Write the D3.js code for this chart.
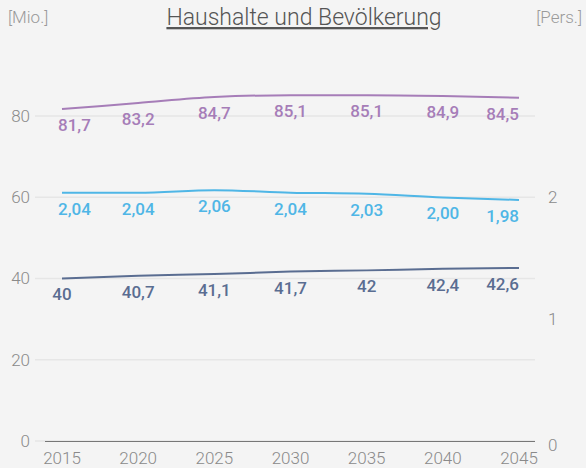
<!DOCTYPE html>
<html>
<head>
<meta charset="utf-8">
<script src="https://cdn.jsdelivr.net/npm/d3@7"></script>
<style>
  html, body { margin: 0; padding: 0; background: #f4f4f4; }
  svg { display: block; font-family: Roboto, "Open Sans", sans-serif; }
  .tick-label { fill: #8a8a8a; font-size: 17px; font-weight: 300; }
  .unit { fill: #9a9a9a; font-size: 17px; font-weight: 300; }
  .title { fill: #555; font-size: 23px; font-weight: 300; text-decoration: underline; }
  .val { font-size: 17px; font-weight: 500; }
</style>
</head>
<body>
<div id="chart"></div>
<script>
/* Haushalte und Bevölkerung - three lines, left axis in Mio., right axis in persons */

const W = 586, H = 468;

const YEARS = [2015, 2020, 2025, 2030, 2035, 2040, 2045];
const BEVOELKERUNG = [81.7, 83.2, 84.7, 85.1, 85.1, 84.9, 84.5];    // Mio.
const HAUSHALTSGROESSE = [2.04, 2.04, 2.06, 2.04, 2.03, 2.00, 1.98]; // Pers.
const HAUSHALTE = [40, 40.7, 41.1, 41.7, 42, 42.4, 42.6];           // Mio.

const LEFT_TICKS = [0, 20, 40, 60, 80];
const RIGHT_TICKS = [0, 1, 2];

const fmt = v => String(v).replace(".", ",");
const fmt2 = v => v.toFixed(2).replace(".", ",");

// firstStart: first label sits left-aligned at the line start instead of centred
const SERIES = [
  { key: "bev", values: BEVOELKERUNG, axis: "left",  color: "#a67db8", label: fmt,  firstStart: true },
  { key: "hhg", values: HAUSHALTSGROESSE, axis: "right", color: "#4fb6e6", label: fmt2, firstStart: true },
  { key: "hh",  values: HAUSHALTE, axis: "left",  color: "#5a6d91", label: fmt,  firstStart: false }
];

const svg = d3.select("#chart").append("svg")
    .attr("width", W).attr("height", H);

// plot area: x from 2015 to 2045, y 0..80 on the left
const x = d3.scaleLinear().domain([2015, 2045]).range([62, 519]);
const yL = d3.scaleLinear().domain([0, 80]).range([441, 116]);
const yR = d3.scaleLinear().domain([0, 2]).range([441, 197.5]);

// gridlines + left tick labels
const grid = svg.append("g");
grid.selectAll("line").data(LEFT_TICKS).join("line")
    .attr("x1", 35).attr("x2", 535)
    .attr("y1", d => yL(d)).attr("y2", d => yL(d))
    .attr("stroke", "#e6e6e6").attr("stroke-width", 1.5);
grid.selectAll("text").data(LEFT_TICKS).join("text")
    .attr("class", "tick-label")
    .attr("x", 30).attr("y", d => yL(d)).attr("dy", "0.35em")
    .attr("text-anchor", "end").text(d => d);

// right tick labels
svg.append("g").selectAll("text").data(RIGHT_TICKS).join("text")
    .attr("class", "tick-label")
    .attr("x", 548).attr("y", d => yR(d) + (d === 0 ? 4 : 0)).attr("dy", "0.35em")
    .text(d => d);

// x axis baseline and year labels
svg.append("line")
    .attr("x1", 45).attr("x2", 535)
    .attr("y1", yL(0) + 0.5).attr("y2", yL(0) + 0.5)
    .attr("stroke", "#777").attr("stroke-width", 1);
svg.append("g").selectAll("text").data(YEARS).join("text")
    .attr("class", "tick-label")
    .attr("x", d => x(d)).attr("y", 458).attr("dy", "0.35em")
    .attr("text-anchor", "middle").text(d => d);

// title and unit labels
svg.append("text").attr("class", "unit").attr("x", 8).attr("y", 23).text("[Mio.]");
svg.append("text").attr("class", "unit").attr("x", 582).attr("y", 23)
    .attr("text-anchor", "end").text("[Pers.]");
svg.append("text").attr("class", "title").attr("x", 304).attr("y", 25)
    .attr("text-anchor", "middle").text("Haushalte und Bevölkerung");

// lines + value labels
SERIES.forEach(s => {
  const y = s.axis === "left" ? yL : yR;
  const last = s.values.length - 1;
  const line = d3.line()
      .x((d, i) => x(YEARS[i]))
      .y(d => y(d))
      .curve(d3.curveMonotoneX);
  svg.append("path")
      .datum(s.values)
      .attr("d", line)
      .attr("fill", "none")
      .attr("stroke", s.color)
      .attr("stroke-width", 2);
  svg.append("g").selectAll("text").data(s.values).join("text")
      .attr("class", "val")
      .attr("fill", s.color)
      .attr("x", (d, i) => x(YEARS[i]) + (i === 0 && s.firstStart ? -4 : 0))
      .attr("y", d => y(d) + 16)
      .attr("dy", "0.35em")
      .attr("text-anchor", (d, i) => i === last ? "end" : (i === 0 && s.firstStart ? "start" : "middle"))
      .text(d => s.label(d));
});
</script>
</body>
</html>
